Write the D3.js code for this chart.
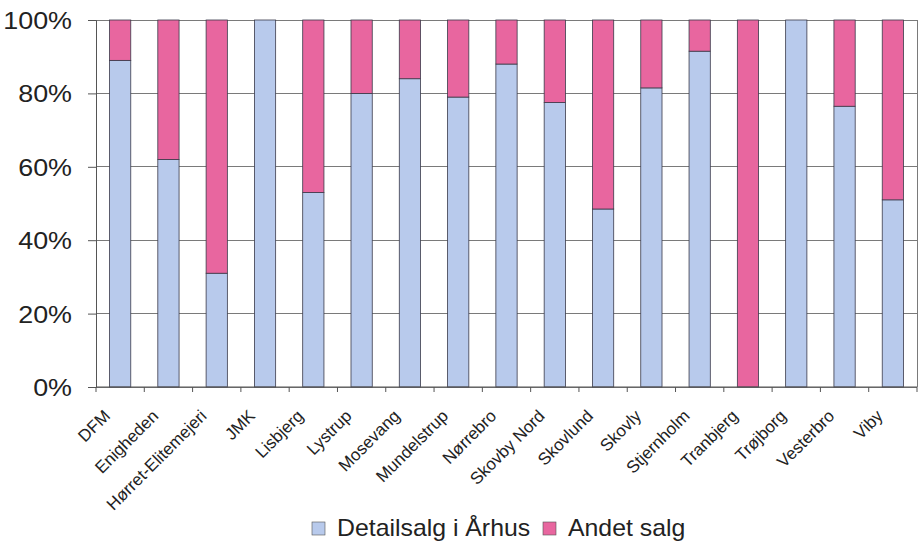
<!DOCTYPE html>
<html><head><meta charset="utf-8">
<script src="https://cdn.jsdelivr.net/npm/d3@7"></script>
<style>html,body{margin:0;padding:0;background:#fff;}svg{display:block;}</style>
</head><body>
<svg id="c" width="919" height="543"></svg>
<script>
const categories = ["DFM","Enigheden","Hørret-Elitemejeri","JMK","Lisbjerg","Lystrup","Mosevang","Mundelstrup","Nørrebro","Skovby Nord","Skovlund","Skovly","Stjernholm","Tranbjerg","Trøjborg","Vesterbro","Viby"];
const detailsalg = [89, 62, 31, 100, 53, 80, 84, 79, 88, 77.5, 48.5, 81.5, 91.5, 0, 100, 76.5, 51];
const andetSalg  = [11, 38, 69, 0, 47, 20, 16, 21, 12, 22.5, 51.5, 18.5, 8.5, 100, 0, 23.5, 49];
const seriesNames = ["Detailsalg i Århus", "Andet salg"];
const yTicks = [0, 20, 40, 60, 80, 100];

const svg = d3.select("#c");
const L = 96, R = 917, T = 20, B = 387;
const x = d3.scaleBand().domain(categories).range([L, R]).paddingInner(0.56).paddingOuter(0.28);
const y = d3.scaleLinear().domain([0, 100]).range([B, T]);
const color = d3.scaleOrdinal().domain(seriesNames).range(["#b8caec", "#e8669f"]);

// gridlines
svg.append("g").selectAll("line").data(yTicks).join("line")
  .attr("x1", L).attr("x2", R).attr("y1", d => y(d)).attr("y2", d => y(d))
  .attr("stroke", "#7a7a7a").attr("stroke-width", 1).attr("shape-rendering", "crispEdges");
// right border
svg.append("line").attr("x1", R).attr("x2", R).attr("y1", T).attr("y2", B)
  .attr("stroke", "#7a7a7a").attr("shape-rendering", "crispEdges");

// stacked data
const rows = categories.map((c, i) => ({cat: c, [seriesNames[0]]: detailsalg[i], [seriesNames[1]]: andetSalg[i]}));
const stack = d3.stack().keys(seriesNames)(rows);

svg.append("g").selectAll("g").data(stack).join("g")
  .attr("fill", d => color(d.key))
  .selectAll("rect").data(d => d).join("rect")
  .attr("x", d => x(d.data.cat))
  .attr("width", x.bandwidth())
  .attr("y", d => y(d[1]))
  .attr("height", d => y(d[0]) - y(d[1]))
  .attr("stroke", d => (d[1] - d[0]) > 0 ? "#3a3a4a" : "none")
  .attr("stroke-width", 0.8);

// y axis
const yAxis = d3.axisLeft(y).tickValues(yTicks).tickFormat(d => d + "%").tickSize(8).tickPadding(0);
const ya = svg.append("g").attr("transform", `translate(${L},0)`).call(yAxis);
ya.select(".domain").attr("stroke", "#555");
ya.selectAll(".tick line").attr("stroke", "#555");
ya.selectAll(".tick text").remove();
ya.selectAll(".tick").append("text")
  .attr("transform", "translate(-24,8.5) scale(1.12,1)")
  .attr("text-anchor", "end")
  .attr("fill", "#222")
  .style("font-family", "Liberation Sans, Arial, sans-serif")
  .style("font-size", "24px")
  .text(d => d + "%");

// x axis
const step = x.step();
const bounds = d3.range(categories.length + 1).map(i => L + i * step);
svg.append("line").attr("x1", L).attr("x2", R).attr("y1", B).attr("y2", B).attr("stroke", "#555");
svg.append("g").selectAll("line").data(bounds).join("line")
  .attr("x1", d => d).attr("x2", d => d).attr("y1", B).attr("y2", B + 5)
  .attr("stroke", "#555");
const xAxis = d3.axisBottom(x).tickSize(0).tickPadding(0);
const xa = svg.append("g").attr("transform", `translate(0,${B})`).call(xAxis);
xa.select(".domain").remove();
xa.selectAll(".tick text")
  .attr("y", 0).attr("dy", 0)
  .attr("text-anchor", "end")
  .attr("transform", "translate(-9,30) rotate(-45)")
  .attr("fill", "#222")
  .style("font-family", "Liberation Sans, Arial, sans-serif")
  .style("font-size", "17px");

// legend
const legend = [{x: 312, name: seriesNames[0]}, {x: 543, name: seriesNames[1]}];
const lg = svg.append("g").selectAll("g").data(legend).join("g");
lg.append("rect").attr("x", d => d.x).attr("y", 522).attr("width", 13).attr("height", 13)
  .attr("fill", d => color(d.name)).attr("stroke", "#555").attr("stroke-width", 0.6);
lg.append("text")
  .attr("transform", d => `translate(${d.x + 25},536) scale(1.08,1)`)
  .attr("fill", "#222")
  .style("font-family", "Liberation Sans, Arial, sans-serif")
  .style("font-size", "23px")
  .text(d => d.name);
</script>
</body></html>
